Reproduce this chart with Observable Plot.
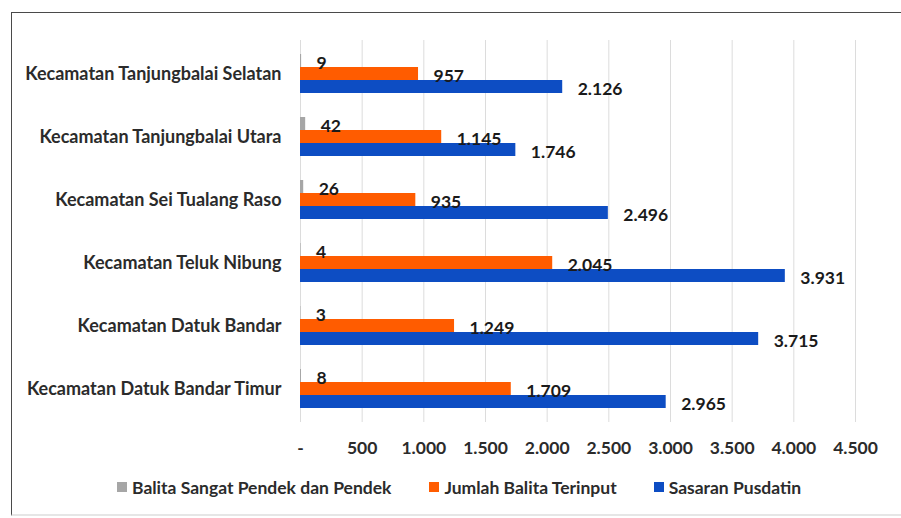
<!DOCTYPE html>
<html>
<head>
<meta charset="utf-8">
<script src="https://cdn.jsdelivr.net/npm/d3@7"></script>
<script src="https://cdn.jsdelivr.net/npm/@observablehq/plot@0.6"></script>
<style>
  html, body { margin: 0; padding: 0; background: #fff; }
  #wrap { position: relative; width: 901px; height: 518px; overflow: hidden; font-family: Lato, sans-serif; color: #2b2b2b; }
  #frame { position: absolute; left: 11px; top: 12px; width: 900px; height: 501px; border-left: 1.5px solid #4a4a4a; border-top: 1.5px solid #4a4a4a; border-bottom: 2px solid #e6e6e6; pointer-events: none; }
  #legend { display: flex; justify-content: flex-start; align-items: center; height: 20px; margin-top: 7px; font-size: 17.5px; font-weight: bold; padding-left: 117px; }
  .item { display: flex; align-items: center; }
  .sw { width: 10px; height: 10px; margin-right: 5px; }
</style>
</head>
<body>
<div id="wrap">
  <div id="chart"></div>
  <div id="legend"></div>
  <div id="frame"></div>
</div>
<script>
const categories = [
  "Kecamatan Tanjungbalai Selatan",
  "Kecamatan Tanjungbalai Utara",
  "Kecamatan Sei Tualang Raso",
  "Kecamatan Teluk Nibung",
  "Kecamatan Datuk Bandar",
  "Kecamatan Datuk Bandar Timur"
];
const seriesNames = ["Balita Sangat Pendek dan Pendek", "Jumlah Balita Terinput", "Sasaran Pusdatin"];
const pendek   = [9, 42, 26, 4, 3, 8];
const terinput = [957, 1145, 935, 2045, 1249, 1709];
const sasaran  = [2126, 1746, 2496, 3931, 3715, 2965];
const xTicks = [0, 500, 1000, 1500, 2000, 2500, 3000, 3500, 4000, 4500];
const colors = ["#a6a6a6", "#ff5c00", "#0d4dc3"];

const seriesValues = [pendek, terinput, sasaran];
const rows = [];
seriesValues.forEach((vals, s) => {
  categories.forEach((c, i) => rows.push({category: c, series: seriesNames[s], s, value: vals[i]}));
});

const fmt = d => d === 0 ? "-" : d3.format(",")(d).replace(/,/g, ".");

const marks = [Plot.ruleX(xTicks, {stroke: "#dcdcdc", strokeWidth: 1})];
[0, 1, 2].forEach(s => {
  const data = rows.filter(r => r.s === s);
  marks.push(Plot.barX(data, {
    x: "value", y: "category", fill: colors[s],
    insetTop: s * 13, insetBottom: (2 - s) * 13
  }));
});
[0, 1, 2].forEach(s => {
  const data = rows.filter(r => r.s === s);
  marks.push(Plot.text(data, {
    x: "value", y: "category", text: d => fmt(d.value),
    textAnchor: "start", dx: 15, dy: (s - 1) * 13 + 2,
    fontWeight: "bold", fontSize: 17.5, fill: "#1a1a1a"
  }));
});
marks.push(Plot.axisX({ticks: xTicks, tickFormat: fmt, tickSize: 0, tickPadding: 19, fontSize: 17.5, fontWeight: "bold", label: null}));
marks.push(Plot.axisY({tickSize: 0, tickPadding: 19, fontSize: 18, fontWeight: "bold", label: null}));

const chart = Plot.plot({
  width: 901,
  height: 470,
  marginLeft: 300,
  marginRight: 46,
  marginTop: 40,
  marginBottom: 48,
  style: {fontFamily: "Lato, sans-serif", color: "#2b2b2b", background: "transparent", overflow: "visible"},
  x: {domain: [0, 4500], axis: null},
  y: {domain: categories, paddingInner: 0.3875, paddingOuter: 0.194, axis: null},
  marks
});
document.getElementById("chart").appendChild(chart);

const legend = document.getElementById("legend");
const gaps = [38, 37, 0];
seriesNames.forEach((name, s) => {
  const item = document.createElement("div");
  item.className = "item";
  item.style.marginRight = gaps[s] + "px";
  const sw = document.createElement("div");
  sw.className = "sw";
  sw.style.background = colors[s];
  const t = document.createElement("span");
  t.textContent = name;
  item.appendChild(sw);
  item.appendChild(t);
  legend.appendChild(item);
});
</script>
</body>
</html>
